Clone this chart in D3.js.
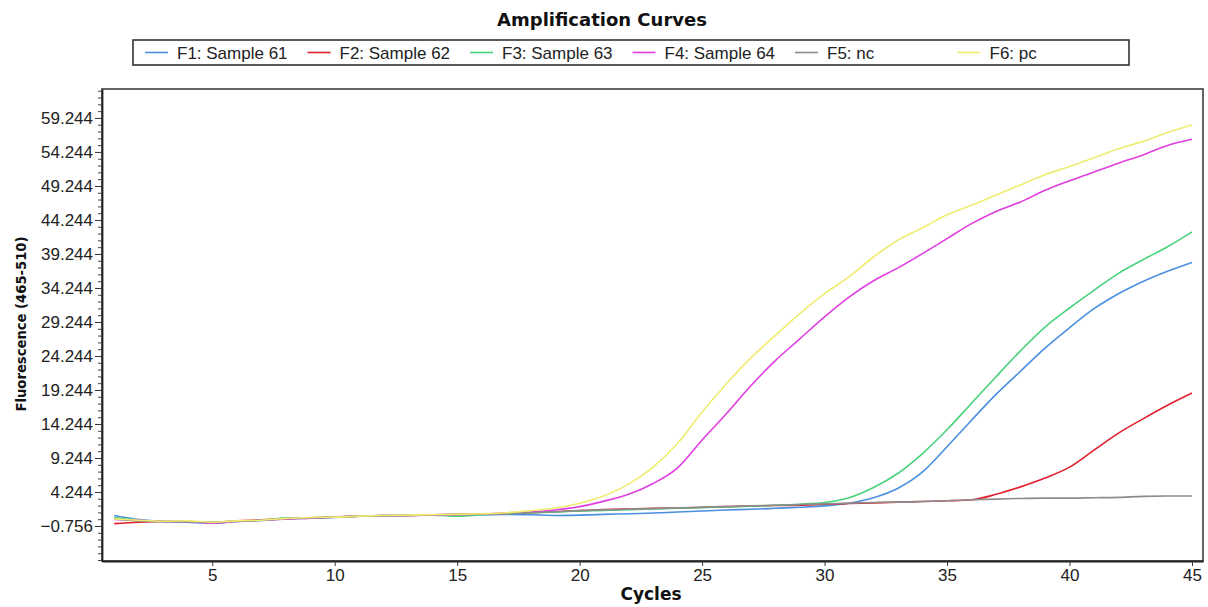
<!DOCTYPE html>
<html>
<head>
<meta charset="utf-8">
<script src="https://cdn.jsdelivr.net/npm/d3@7"></script>
<style>
  body { margin: 0; background: #fff; }
  .tick text { font-family: "Liberation Sans", Arial, sans-serif; font-size: 17px; fill: #222; }
  .bold { font-family: "DejaVu Sans", sans-serif; font-weight: bold; fill: #111; }
</style>
</head>
<body>
<script>
// cycle numbers (x categories)
var cycles = [1,2,3,4,5,6,7,8,9,10,11,12,13,14,15,16,17,18,19,20,21,22,23,24,25,26,27,28,29,30,
  31,32,33,34,35,36,37,38,39,40,41,42,43,44,45];

// series names and colours
var seriesNames = ['F1: Sample 61', 'F2: Sample 62', 'F3: Sample 63', 'F4: Sample 64', 'F5: nc', 'F6: pc'];
var seriesColors = ['#4a8fe0', '#e0202e', '#48d27a', '#e03ee0', '#8c8c8c', '#f0ec70'];

// fluorescence values
var f1 = [0.8,0.2,-0.1,-0.2,-0.35,-0.1,0.05,0.3,0.4,0.5, 0.7,0.8,0.8,0.85,0.8,0.9,0.95,0.9,0.8,0.85,
  0.95,1.05,1.15,1.3,1.45,1.6,1.7,1.85,2.0,2.2, 2.6,3.4,4.8,7.2,10.9,14.8,18.6,22.0,25.4,28.4,
  31.2,33.4,35.2,36.7,38.0];
var f2 = [-0.4,-0.2,-0.1,-0.1,-0.2,0.0,0.15,0.3,0.45,0.55, 0.7,0.75,0.8,0.9,0.95,1.0,1.1,1.2,1.35,1.5,
  1.65,1.75,1.85,1.9,2.0,2.1,2.2,2.25,2.3,2.45, 2.55,2.65,2.75,2.85,2.95,3.1,3.9,5.0,6.3,7.9,
  10.4,12.9,15.0,17.0,18.8];
var f3 = [0.5,0.1,-0.1,-0.1,-0.2,-0.05,0.1,0.4,0.45,0.55, 0.7,0.75,0.8,0.85,0.7,0.9,1.05,1.2,1.3,1.45,
  1.55,1.65,1.75,1.85,1.95,2.05,2.15,2.3,2.45,2.7, 3.4,4.9,7.0,9.9,13.4,17.3,21.2,25.0,28.5,31.3,
  33.9,36.4,38.4,40.3,42.5];
var f4 = [0.2,0.1,-0.1,-0.1,-0.35,-0.1,0.1,0.3,0.4,0.6, 0.7,0.8,0.8,0.85,0.9,1.0,1.1,1.3,1.6,2.1,
  2.9,3.9,5.5,7.8,11.9,15.8,19.9,23.6,26.8,30.0, 32.9,35.3,37.2,39.3,41.5,43.7,45.5,46.9,48.6,50.0,
  51.3,52.6,53.8,55.2,56.1];
var f5 = [0.3,0.0,-0.1,-0.1,-0.25,-0.05,0.1,0.35,0.45,0.55, 0.7,0.8,0.85,0.9,0.95,1.0,1.1,1.2,1.35,1.5,
  1.6,1.7,1.8,1.9,2.0,2.1,2.2,2.3,2.4,2.5, 2.6,2.7,2.75,2.85,2.95,3.1,3.2,3.3,3.35,3.35,
  3.4,3.45,3.6,3.65,3.65];
var f6 = [0.3,0.1,-0.05,0.0,-0.2,0.0,0.1,0.35,0.5,0.55, 0.7,0.8,0.85,0.9,0.95,1.05,1.2,1.5,1.9,2.6,
  3.7,5.4,7.9,11.4,16.0,20.2,24.0,27.3,30.5,33.4, 35.9,38.8,41.3,43.1,45.0,46.4,47.9,49.4,50.9,52.1,
  53.4,54.7,55.8,57.1,58.2];

// tick values
var xTicks = [5, 10, 15, 20, 25, 30, 35, 40, 45];
var yTicks = [-0.756, 4.244, 9.244, 14.244, 19.244, 24.244, 29.244, 34.244, 39.244, 44.244, 49.244, 54.244, 59.244];
var yMinorTicks = [-5.756,-4.756,-3.756,-2.756,-1.756,0.244,1.244,2.244,3.244,5.244,6.244,7.244,8.244,
  10.244,11.244,12.244,13.244,15.244,16.244,17.244,18.244,20.244,21.244,22.244,23.244,
  25.244,26.244,27.244,28.244,30.244,31.244,32.244,33.244,35.244,36.244,37.244,38.244,
  40.244,41.244,42.244,43.244,45.244,46.244,47.244,48.244,50.244,51.244,52.244,53.244,
  55.244,56.244,57.244,58.244,60.244,61.244,62.244,63.244];

var allSeries = [f1, f2, f3, f4, f5, f6];

var width = 1208, height = 607;
var plotLeft = 102, plotRight = 1203, plotTop = 89, plotBottom = 561;

var svg = d3.select('body').append('svg')
  .attr('width', width)
  .attr('height', height);

var x = d3.scaleLinear().domain([0.5, 45.45]).range([plotLeft, plotRight]);
var y = d3.scaleLinear().domain([-5.9, 63.5]).range([plotBottom, plotTop]);

// title
svg.append('text')
  .attr('class', 'bold')
  .attr('x', 602)
  .attr('y', 26)
  .attr('text-anchor', 'middle')
  .style('font-size', '18px')
  .text('Amplification Curves');

// legend
var legend = svg.append('g');
legend.append('rect')
  .attr('x', 133).attr('y', 40)
  .attr('width', 996).attr('height', 25)
  .attr('fill', '#fff')
  .attr('stroke', '#333')
  .attr('stroke-width', 1.6);

var items = legend.selectAll('g.item')
  .data(seriesNames)
  .enter().append('g')
  .attr('class', 'item')
  .attr('transform', (d, i) => 'translate(' + (145 + i * 162.5) + ',0)');

items.append('line')
  .attr('x1', 0).attr('x2', 23)
  .attr('y1', 52.5).attr('y2', 52.5)
  .attr('stroke', (d, i) => seriesColors[i])
  .attr('stroke-width', 1.6);

items.append('text')
  .attr('x', 32)
  .attr('y', 58.5)
  .style('font-family', '"Liberation Sans", Arial, sans-serif')
  .style('font-size', '17px')
  .style('fill', '#222')
  .text(d => d);

// clip for the curves
svg.append('clipPath').attr('id', 'plotclip')
  .append('rect')
  .attr('x', plotLeft).attr('y', plotTop)
  .attr('width', plotRight - plotLeft).attr('height', plotBottom - plotTop);

// curves
var line = d3.line()
  .x((d, i) => x(cycles[i]))
  .y(d => y(d))
  .curve(d3.curveMonotoneX);

svg.append('g')
  .attr('clip-path', 'url(#plotclip)')
  .selectAll('path')
  .data(allSeries)
  .enter().append('path')
  .attr('d', d => line(d))
  .attr('fill', 'none')
  .attr('stroke', (d, i) => seriesColors[i])
  .attr('stroke-width', 1.6);

// frame
svg.append('rect')
  .attr('x', plotLeft).attr('y', plotTop)
  .attr('width', plotRight - plotLeft).attr('height', plotBottom - plotTop)
  .attr('fill', 'none')
  .attr('stroke', '#555')
  .attr('stroke-width', 1.8);

// y axis minor ticks
svg.append('g')
  .attr('transform', 'translate(' + plotLeft + ',0)')
  .call(d3.axisLeft(y).tickValues(yMinorTicks).tickSize(4).tickFormat(''))
  .call(g => g.select('.domain').remove())
  .selectAll('line').attr('stroke', '#444');

// y axis major ticks
svg.append('g')
  .attr('transform', 'translate(' + plotLeft + ',0)')
  .call(d3.axisLeft(y).tickValues(yTicks).tickSize(7).tickSizeOuter(0).tickPadding(2).tickFormat(d3.format('.3f')))
  .call(g => g.select('.domain').attr('stroke', '#222').attr('stroke-width', 1.8))
  .selectAll('line').attr('stroke', '#333');

// x axis
svg.append('g')
  .attr('transform', 'translate(0,' + plotBottom + ')')
  .call(d3.axisBottom(x).tickValues(xTicks).tickSize(5).tickSizeOuter(0).tickPadding(3).tickFormat(d3.format('d')))
  .call(g => g.select('.domain').attr('stroke', '#222').attr('stroke-width', 1.8))
  .selectAll('line').attr('stroke', '#333');

// axis titles
svg.append('text')
  .attr('class', 'bold')
  .attr('x', 651)
  .attr('y', 600)
  .attr('text-anchor', 'middle')
  .style('font-size', '17px')
  .text('Cycles');

svg.append('text')
  .attr('class', 'bold')
  .attr('transform', 'translate(26,324) rotate(-90)')
  .attr('text-anchor', 'middle')
  .style('font-size', '14px')
  .attr('textLength', 175)
  .attr('lengthAdjust', 'spacingAndGlyphs')
  .text('Fluorescence (465-510)');
</script>
</body>
</html>
